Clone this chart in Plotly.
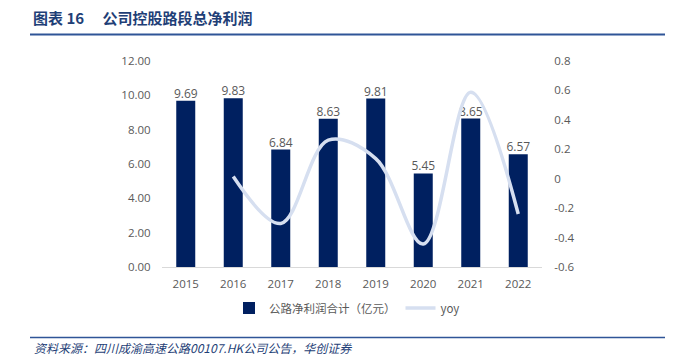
import plotly.graph_objects as go

years = ["2015", "2016", "2017", "2018", "2019", "2020", "2021", "2022"]
profit = [9.69, 9.83, 6.84, 8.63, 9.81, 5.45, 8.65, 6.57]
yoy_years = ["2016", "2017", "2018", "2019", "2020", "2021", "2022"]
yoy = [0.0144, -0.304, 0.262, 0.137, -0.444, 0.587, -0.240]
left_ticks = [0, 2, 4, 6, 8, 10, 12]
right_ticks = [-0.6, -0.4, -0.2, 0, 0.2, 0.4, 0.6, 0.8]

# page is 681x355; the browser's body margin shifts the figure by 8px
OFF = 8
FW, FH = 681 - OFF, 355 - OFF


def fx(X):
    return (X - OFF) / FW


def fy(Y):
    return 1 - (Y - OFF) / FH


NAVY = "#002060"
LINE = "#D6DFF0"
GRAY = "#595959"
TITLE_BLUE = "#1F3F77"
RULE_BLUE = "#2F5597"
CJK = "Noto Sans CJK SC"
NUM = "Open Sans"

fig = go.Figure()
fig.add_trace(go.Bar(
    x=years, y=profit, name="公路净利润合计（亿元）",
    marker=dict(color=NAVY, line=dict(width=0)),
    yaxis="y",
))
fig.add_trace(go.Scatter(
    x=yoy_years, y=yoy, name="yoy", mode="lines",
    line=dict(color=LINE, width=3.5, shape="spline", smoothing=1.0),
    yaxis="y2",
))
# data labels drawn above the line
fig.add_trace(go.Scatter(
    x=years, y=profit, mode="text", showlegend=False, hoverinfo="skip",
    text=[f"{v:.2f}" for v in profit], textposition="top center",
    textfont=dict(family=NUM, size=12, color=GRAY),
    cliponaxis=False, yaxis="y",
))

px0, px1 = 162, 542
py_top, py_bot = 61, 267

fig.update_layout(
    template="none",
    width=FW, height=FH,
    margin=dict(l=0, r=0, t=0, b=0, autoexpand=False),
    paper_bgcolor="white", plot_bgcolor="white",
    bargap=0.6,
    showlegend=True,
    legend=dict(orientation="h", x=fx(347), xanchor="center", y=fy(308), yanchor="middle",
                font=dict(family=CJK + ", " + NUM, size=11.5, color=GRAY),
                itemwidth=30, tracegroupgap=0, bgcolor="rgba(0,0,0,0)"),
    xaxis=dict(domain=[fx(px0), fx(px1)], type="category", automargin=False,
               showline=True, linecolor="#D9D9D9", linewidth=1,
               ticks="outside", ticklen=6, tickcolor="rgba(0,0,0,0)",
               tickfont=dict(family=NUM, size=11.5, color=GRAY), showgrid=False),
    yaxis=dict(domain=[fy(py_bot), fy(py_top)], range=[0, 12], automargin=False,
               tickvals=left_ticks, ticktext=[f"{v:.2f}" for v in left_ticks],
               showgrid=False, zeroline=False, showline=False,
               ticks="outside", ticklen=8, tickcolor="rgba(0,0,0,0)",
               tickfont=dict(family=NUM, size=11.5, color=GRAY)),
    yaxis2=dict(overlaying="y", side="right", range=[-0.6, 0.8], automargin=False,
                tickvals=right_ticks, ticktext=[f"{v:g}" for v in right_ticks],
                showgrid=False, zeroline=False, showline=False,
                ticks="outside", ticklen=9, tickcolor="rgba(0,0,0,0)",
                tickfont=dict(family=NUM, size=11.5, color=GRAY)),
    shapes=[
        dict(type="line", xref="paper", yref="paper", x0=fx(30), x1=fx(665),
             y0=fy(34.5), y1=fy(34.5), line=dict(color=RULE_BLUE, width=2)),
        dict(type="line", xref="paper", yref="paper", x0=fx(30), x1=fx(665),
             y0=fy(337.5), y1=fy(337.5), line=dict(color=RULE_BLUE, width=1.5)),
    ],
    annotations=[
        dict(text="<b>图表 16　 公司控股路段总净利润</b>", xref="paper", yref="paper",
             x=fx(31), y=fy(17), xanchor="left", yanchor="middle", showarrow=False,
             font=dict(family=CJK, size=15, color=TITLE_BLUE)),
        dict(text="<i>资料来源：四川成渝高速公路00107.HK公司公告，华创证券</i>", xref="paper", yref="paper",
             x=fx(32), y=fy(347), xanchor="left", yanchor="middle", showarrow=False,
             font=dict(family=CJK, size=12, color=TITLE_BLUE)),
    ],
)

fig.write_html("out.html")
